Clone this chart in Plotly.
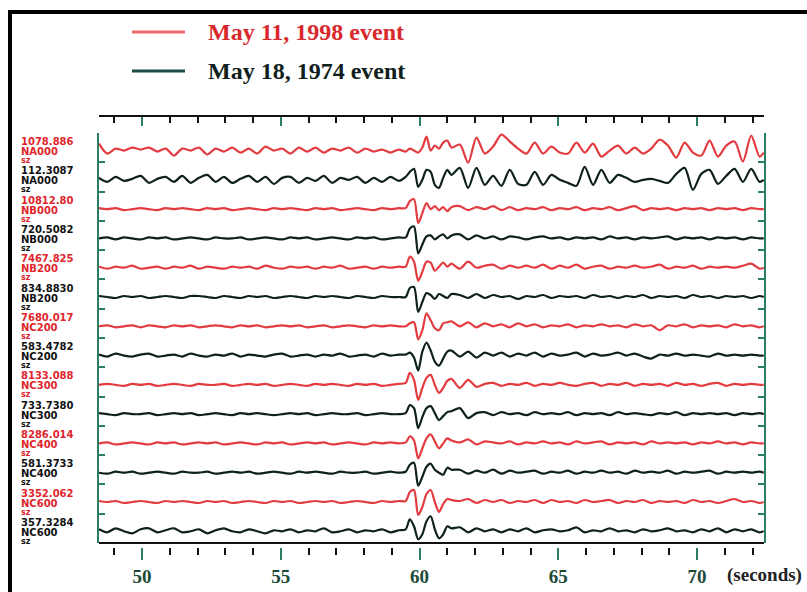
import plotly.graph_objects as go

W, H = 807, 592

# sample times (seconds)
times = [48.45, 48.75, 49.05, 49.35, 49.65, 49.95, 50.25, 50.55, 50.85, 51.15,
         51.45, 51.75, 52.05, 52.35, 52.65, 52.95, 53.25, 53.55, 53.85, 54.15,
         54.45, 54.75, 55.05, 55.35, 55.65, 55.95, 56.25, 56.55, 56.85, 57.15,
         57.45, 57.75, 58.05, 58.35, 58.65, 58.95, 59.25,
         59.5, 59.65, 59.8, 59.95, 60.1, 60.25, 60.4, 60.55, 60.7, 60.85, 61.0, 61.15,
         61.45, 61.75, 62.05, 62.35, 62.65, 62.95, 63.25, 63.55, 63.85, 64.15,
         64.45, 64.75, 65.05, 65.35, 65.65, 65.95, 66.25, 66.55, 66.85, 67.15,
         67.45, 67.75, 68.05, 68.35, 68.65, 68.95, 69.25, 69.55, 69.85, 70.15,
         70.45, 70.75, 71.05, 71.35, 71.65, 71.95, 72.25, 72.4]

# relative amplitudes (per trace)
na000_1998 = [7, -3, 2, 0, 3, 1, 3, -1, 2, -5, 2, 0, 3, -4, 2, -1, 3, -2, 2, -3, 4, 0, 2, -3, 3, -1, 3, -2, 2, 0, 3, -2, 2, -1, 1, -2, 1,
              -1, 2, 0, -2, 3, 14, 0, 5, 2, 8, 10, 3,
              6, -12, 13, -3, 4, 16, 9, 2, -3, 8, -3, 4, -2, -3, 8, -2, 7, -6, 0, 5, -3, 3, -3, 2, 11, 5, -7, 8, -2, -5, 10, -6, 5, 9, -11, 15, -6, -2]
na000_1974 = [2, -2, 3, -1, 1, 4, -3, 1, 3, -2, 4, -3, 2, 5, -2, 3, -3, 1, 4, -2, 3, -4, 2, 3, -3, 2, -1, 4, -3, 2, 0, 3, -3, 2, -2, 3, -1,
              3, 8, 11, -7, 0, 10, 8, -5, -8, 2, 10, 5,
              12, -8, 12, -5, 4, -6, 10, -4, -5, 8, -5, 5, 0, -3, -6, 13, -5, 10, -3, 5, 2, -2, 0, 1, -1, -3, 6, 12, -10, 6, 10, -4, 4, 11, -2, 11, -2, 0]
nb000_1998 = [1, 0, 1, -1, 0, 1, 0, -1, 1, 0, 1, 0, -1, 1, 0, 1, -1, 0, 1, 0, -1, 1, 0, 1, 0, -1, 1, 0, 1, -1, 0, 1, 0, -1, 1, 0, 1,
              1, 8, 10, -14, -4, 6, 0, 3, -1, 2, -2, 2,
              3, -1, 2, 0, 3, -1, 2, -1, 1, 0, 2, -1, 1, 0, 2, -1, 1, 0, 2, -1, 1, 3, -1, 1, 0, 1, -1, 1, 0, 1, -1, 1, 0, 1, -1, 1, 0, 0]
nb000_1974 = [0, 1, -1, 1, 0, -1, 1, 0, 1, -1, 0, 1, 0, -1, 1, 0, 0, 1, -1, 0, 1, 0, -1, 1, 0, 1, -1, 0, 1, 0, -1, 1, 0, 1, -1, 0, 1,
              1, 10, 12, -15, -6, 2, 3, -1, 2, 4, 0, 3,
              4, -1, 3, 0, 2, -1, 2, 1, -1, 1, 2, 0, 1, -1, 1, 0, 1, -1, 2, 0, 1, -1, 1, 0, 1, 2, -1, 1, 0, 1, -1, 1, 0, 1, -1, 1, 0, 0]
nb200_1998 = [1, -1, 1, 0, 2, -1, 0, 1, -1, 1, 0, 2, -1, 1, 0, -1, 1, 0, 1, -1, 2, 0, -1, 1, 0, 1, -1, 1, 0, 2, -1, 0, 1, -1, 1, 0, 1,
              1, 11, 6, -13, -4, 6, 5, -3, 1, 5, 1, 4,
              -1, 6, 0, 2, 3, -1, 2, 0, 2, 0, 3, -1, 2, 0, 3, -1, 1, 2, -1, 1, 0, 2, 0, 1, 3, -1, 1, 0, 2, -1, 1, 0, 1, 0, 2, 4, -1, 0]
nb200_1974 = [1, 0, -1, 1, 0, 1, -1, 0, 1, 0, -1, 1, 1, 0, -1, 1, 0, -1, 1, 0, 1, -1, 0, 1, 0, -1, 1, 0, 1, 0, -1, 1, 0, -1, 1, 0, 0,
              0, 9, 10, -15, -5, 4, 2, -2, 3, 1, -1, 3,
              2, -1, 3, -1, 2, 0, 1, -2, 1, 0, 2, -1, 1, 0, 1, -1, 2, 0, 1, -1, 1, 0, 2, -1, 1, 0, 1, -1, 2, 0, 1, -1, 1, 0, 1, -1, 1, 0]
nc200_1998 = [0, 1, -1, 0, 1, -1, 1, 0, -1, 1, 0, 1, -1, 0, 1, 0, -1, 1, 0, 1, -1, 0, 1, 0, 1, -1, 0, 1, -1, 0, 1, 0, -1, 1, 0, 1, 0,
              0, 3, 4, -13, -4, 13, 6, -2, -4, 3, 4, 5,
              0, 4, -1, 3, 0, 2, -1, 3, 0, 2, -1, 1, 0, 2, -1, 1, 0, 2, 0, 1, -1, 2, 0, 1, -4, 1, 0, 2, -1, 1, 0, 1, -1, 2, 0, 1, -1, 0]
nc200_1974 = [1, -1, 2, 0, -1, 1, 2, -1, 0, 1, -1, 2, 0, -1, 1, 0, 2, -1, 1, 0, -1, 1, 2, -1, 0, 1, -1, 1, 0, 2, -1, 0, 1, -1, 2, 0, 1,
              1, 3, -2, -15, 4, 13, 5, -6, -10, -3, 4, 5,
              -1, 4, -2, 3, 0, 3, -1, 2, 0, 3, -1, 2, 0, 1, 3, -1, 2, 0, 1, 3, 0, 2, -1, -3, 1, 0, 2, 0, 1, 0, -1, 2, 0, 1, 0, 1, 0, 0]
nc300_1998 = [0, 1, 0, -1, 1, 0, 1, -1, 0, 1, 0, -1, 1, 0, 0, 1, -1, 0, 1, 0, 1, -1, 0, 1, 0, -1, 1, 0, 1, 0, -1, 1, 0, 1, -1, 0, 1,
              2, 12, 5, -15, -3, 7, 10, 0, -8, -3, 4, 6,
              -3, 5, -2, 1, 2, -1, 1, 0, 2, -1, 1, 0, 2, 0, -1, 1, 2, -1, 1, 0, 2, -1, 1, 0, 1, -1, 2, 0, 1, -1, 1, 2, -1, 1, 0, 1, 0, 0]
nc300_1974 = [1, 0, -1, 1, 0, 0, 1, -1, 0, 1, 0, 1, -1, 0, 1, 0, -1, 1, 0, 1, 0, -1, 0, 1, 0, 1, -1, 0, 1, 0, 0, 1, -1, 0, 1, 0, 0,
              1, 9, 6, -14, -3, 6, 8, 1, -6, -2, 2, 3,
              6, -4, 1, 2, -1, 2, 0, 1, -1, 2, 0, 1, 0, 2, -1, 1, 0, 1, -1, 2, 0, 1, 0, -1, 1, 0, 2, -1, 1, 0, 1, 0, 1, -1, 1, 0, 1, 0]
nc400_1998 = [0, 1, -1, 0, 1, 0, -1, 1, 0, 1, -1, 0, 1, 0, 1, -1, 0, 1, 0, -1, 1, 0, 1, -1, 0, 1, 0, 1, -1, 0, 1, 0, -1, 1, 0, 1, 0,
              1, 7, 3, -15, -5, 5, 9, 2, -5, 0, 5, 3,
              1, 4, -1, 2, 1, 0, 2, -1, 1, 0, 2, 0, 1, -1, 2, 0, 1, 2, -1, 1, 0, 1, -1, 2, 0, 1, 0, 1, -1, 1, 0, 2, 0, 1, -1, 1, 0, 0]
nc400_1974 = [0, -1, 1, 0, 1, -1, 0, 1, 0, -1, 1, 0, 0, 1, -1, 0, 1, 0, 1, -1, 0, 1, 0, -1, 1, 0, 1, 0, -1, 1, 0, 0, 1, -1, 0, 1, 0,
              1, 8, 10, -13, -4, 6, 9, 3, 0, -2, 5, 3,
              3, -1, 2, 0, 3, -1, 2, 0, 1, 2, -1, 1, 0, 2, -1, 1, 0, 2, 0, 1, -1, 2, 0, 1, 0, 2, -1, 1, 0, 1, 2, -1, 1, 0, 1, 0, 1, 0]
nc600_1998 = [1, 0, 1, -1, 0, 1, 0, -1, 1, 0, 1, 0, -1, 1, 0, 1, -1, 0, 1, 0, -1, 1, 0, 1, -1, 0, 1, 0, 1, -1, 0, 1, 0, -1, 1, 0, 1,
              1, 10, 12, -13, -5, 8, 12, 0, -10, -2, 3, 2,
              1, 3, -1, 2, 0, 2, -1, 1, 0, 2, -1, 2, 0, 1, -1, 2, 0, 1, 2, -1, 1, 0, 2, -1, 1, 0, 1, -1, 2, 0, 1, -1, 1, 3, 0, 1, -1, 0]
nc600_1974 = [2, -1, 3, 0, -2, 2, 3, -1, 1, 3, -1, 0, 2, -2, 1, 3, 0, -1, 2, 0, -2, 1, 0, 2, -1, 1, 0, 3, -1, 0, 2, -1, 1, 0, 2, -1, 1,
              2, 12, 5, -8, -3, 10, 15, 2, -7, -3, 5, 3,
              4, -1, 3, 0, 2, -1, 2, 0, 3, -1, 1, 2, 0, 1, 4, -1, 1, 0, 3, 0, 1, -1, 2, 0, 1, 3, 0, 1, -1, 2, 0, 3, -1, 2, 0, 2, -1, 0]

series = [na000_1998, na000_1974, nb000_1998, nb000_1974, nb200_1998, nb200_1974,
          nc200_1998, nc200_1974, nc300_1998, nc300_1974, nc400_1998, nc400_1974,
          nc600_1998, nc600_1974]
events = ["1998", "1974"] * 7
peak_labels = ["1078.886", "112.3087", "10812.80", "720.5082", "7467.825", "834.8830",
               "7680.017", "583.4782", "8133.088", "733.7380", "8286.014", "581.3733",
               "3352.062", "357.3284"]
stations = ["NA000", "NA000", "NB000", "NB000", "NB200", "NB200", "NC200", "NC200",
            "NC300", "NC300", "NC400", "NC400", "NC600", "NC600"]
legend_names = {"1998": "May 11, 1998 event", "1974": "May 18, 1974 event"}
x_major_ticks = [50, 55, 60, 65, 70]

for s in series:
    assert len(s) == len(times), len(s)

RED = "#e33c40"
DARK = "#0e2219"
TEAL = "#2b7d64"
LABEL_RED = "#e0262c"

# pixel geometry
px_l, px_r = 99, 764
px_t, px_b = 133, 543
xdom = [px_l / W, px_r / W]
ydom = [1 - px_b / H, 1 - px_t / H]
n = len(series)
slot_px = (px_b - px_t) / n
xrange_ = [48.45, 72.41]

fig = go.Figure()
for k, amp in enumerate(series):
    base = n - k - 0.6
    col = RED if events[k] == "1998" else DARK
    fig.add_trace(go.Scatter(
        x=times, y=[base + a / slot_px for a in amp], mode="lines",
        line=dict(color=col, width=2.2, shape="spline", smoothing=0.8),
        showlegend=False, hoverinfo="skip"))
    lc = LABEL_RED if events[k] == "1998" else "#111111"
    for txt, dy, sz in ((peak_labels[k], 9, 10), (stations[k], -1, 10), ("sz", -10, 8)):
        fig.add_annotation(x=19 / W, xref="paper", y=base, yref="y", yshift=dy,
                           text=txt, showarrow=False, xanchor="left", yanchor="middle",
                           font=dict(family="DejaVu Sans", size=sz, color=lc, weight="bold"))

# top axis carrier
fig.add_trace(go.Scatter(x=xrange_, y=[None, None], xaxis="x2", mode="lines",
                         showlegend=False, hoverinfo="skip"))

fig.update_layout(
    width=W, height=H, margin=dict(l=0, r=0, t=0, b=0),
    paper_bgcolor="white", plot_bgcolor="white",
    xaxis=dict(domain=xdom, range=xrange_, anchor="free", position=(H - 547) / H,
               showline=False, showgrid=False, zeroline=False,
               ticks="outside", tickvals=x_major_ticks, ticklen=12, tickwidth=2,
               tickcolor=TEAL,
               tickfont=dict(family="Liberation Serif", size=19, color="#1c4a36", weight="bold"),
               minor=dict(dtick=1, tick0=50, ticks="outside", ticklen=7, tickwidth=2,
                          tickcolor="#111111")),
    xaxis2=dict(domain=xdom, range=xrange_, overlaying="x", side="top", anchor="free",
                position=(H - 116) / H, showline=True, linecolor="#111111", linewidth=2,
                showgrid=False, zeroline=False, ticks="inside", tickvals=x_major_ticks,
                ticklen=9, tickwidth=2, tickcolor=TEAL, showticklabels=False,
                minor=dict(dtick=1, tick0=50, ticks="inside", ticklen=6, tickwidth=2,
                           tickcolor="#111111")),
    yaxis=dict(domain=ydom, range=[0, n], showline=True, linecolor=TEAL, linewidth=2,
               mirror="ticks", ticks="inside", ticklen=6, tickwidth=2, tickcolor=TEAL,
               tickvals=list(range(1, n + 1)), showticklabels=False,
               showgrid=False, zeroline=False),
)

shapes = [
    # bottom frame
    dict(type="line", xref="paper", yref="paper", x0=xdom[0], x1=xdom[1],
         y0=ydom[0], y1=ydom[0], line=dict(color="#111111", width=2)),
    # outer border
    dict(type="line", xref="paper", yref="paper", x0=8 / W, x1=1, y0=1 - 12 / H, y1=1 - 12 / H,
         line=dict(color="black", width=4)),
    dict(type="line", xref="paper", yref="paper", x0=10 / W, x1=10 / W, y0=0, y1=1 - 10 / H,
         line=dict(color="black", width=4)),
    # legend samples
    dict(type="line", xref="paper", yref="paper", x0=132 / W, x1=185 / W,
         y0=1 - 32 / H, y1=1 - 32 / H, line=dict(color="#ef6a6a", width=3)),
    dict(type="line", xref="paper", yref="paper", x0=132 / W, x1=185 / W,
         y0=1 - 71 / H, y1=1 - 71 / H, line=dict(color="#1d4d45", width=3)),
]
fig.update_layout(shapes=shapes)

fig.add_annotation(x=206 / W, y=1 - 32 / H, xref="paper", yref="paper",
                   text=legend_names["1998"], showarrow=False, xanchor="left", yanchor="middle",
                   font=dict(family="Liberation Serif", size=24, color="#d8282c", weight="bold"))
fig.add_annotation(x=206 / W, y=1 - 71 / H, xref="paper", yref="paper",
                   text=legend_names["1974"], showarrow=False, xanchor="left", yanchor="middle",
                   font=dict(family="Liberation Serif", size=24, color="#10201a", weight="bold"))
fig.add_annotation(x=764 / W, y=1 - 575 / H, xref="paper", yref="paper",
                   text="(seconds)", showarrow=False, xanchor="center", yanchor="middle",
                   font=dict(family="Liberation Serif", size=19, color="#222222", weight="bold"))

fig.write_html("out.html", config={"displayModeBar": False},
               post_script="document.body.style.margin='0px';document.body.style.overflow='hidden';")
